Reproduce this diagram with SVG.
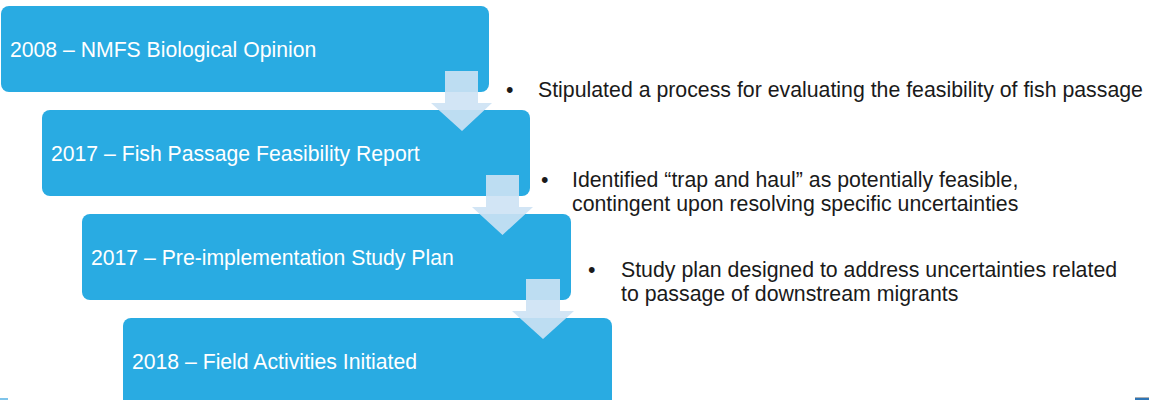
<svg xmlns="http://www.w3.org/2000/svg" width="1149" height="400" viewBox="0 0 1149 400">
<style>
.box{fill:#29abe2}
.bt{font-family:"Liberation Sans",Arial,sans-serif;font-size:21.2px;fill:#ffffff}
.nt{font-family:"Liberation Sans",Arial,sans-serif;font-size:21.3px;fill:#1a1a1a}
.arr{fill:#cde2f4;fill-opacity:0.9}
</style>
<rect width="1149" height="400" fill="#ffffff"/>
<g id="step1">
<rect class="box" x="1" y="6" width="488" height="86" rx="8"/>
<text class="bt" x="10" y="56.5">2008 – NMFS Biological Opinion</text>
</g>
<g id="step2">
<rect class="box" x="42" y="110" width="488" height="86" rx="8"/>
<text class="bt" x="51" y="160.5">2017 – Fish Passage Feasibility Report</text>
</g>
<g id="step3">
<rect class="box" x="82" y="214" width="489" height="86" rx="8"/>
<text class="bt" x="91" y="264.5">2017 – Pre-implementation Study Plan</text>
</g>
<g id="step4">
<rect class="box" x="123" y="318" width="489" height="90" rx="8"/>
<text class="bt" x="132" y="368.5">2018 – Field Activities Initiated</text>
</g>
<g id="connectors">
<path class="arr" d="M445,71 H478 V103 H492 L462,131 L431,103 H445 Z"/>
<path class="arr" d="M486,175 H519 V207 H533 L502.5,235 L472,207 H486 Z"/>
<path class="arr" d="M526,279 H560 V311 H574 L543,339 L512,311 H526 Z"/>
</g>
<g id="note1">
<text class="nt" x="506" y="97">•</text>
<text class="nt" x="538" y="97">Stipulated a process for evaluating the feasibility of fish passage</text>
</g>
<g id="note2">
<text class="nt" x="541" y="186.5">•</text>
<text class="nt" x="572" y="186.5">Identified “trap and haul” as potentially feasible,</text>
<text class="nt" x="572" y="210.5">contingent upon resolving specific uncertainties</text>
</g>
<g id="note3">
<text class="nt" x="588" y="276.5">•</text>
<text class="nt" x="621" y="276.5">Study plan designed to address uncertainties related</text>
<text class="nt" x="621" y="300.5">to passage of downstream migrants</text>
</g>
<rect x="0" y="398" width="8" height="2" fill="#7fc4ea"/>
<rect x="1135" y="397" width="14" height="1" fill="#b0b0b0"/>
<rect x="1135" y="398" width="14" height="2" fill="#2e75b6"/>
</svg>
